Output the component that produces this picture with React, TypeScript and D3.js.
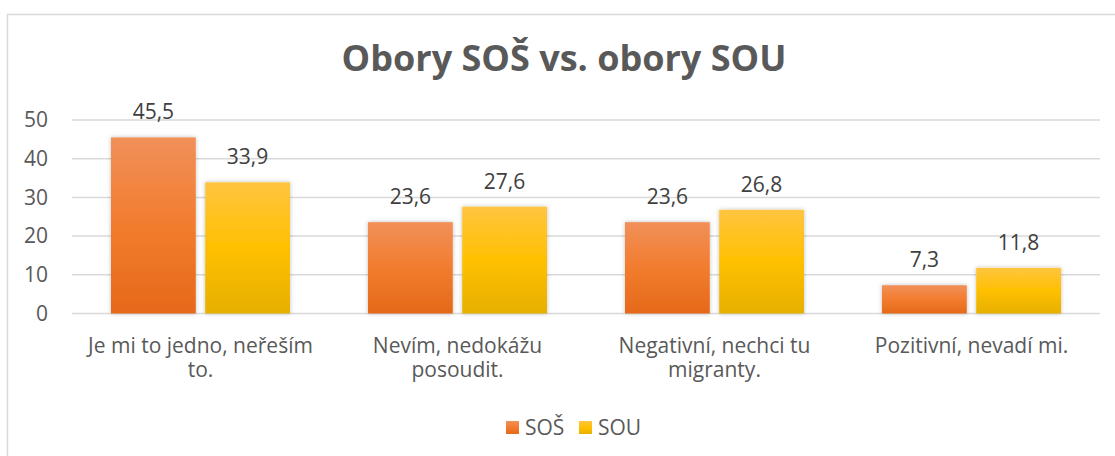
import React, { useRef, useEffect } from 'react';
import * as d3 from 'd3';

const categories = [
  ['Je mi to jedno, neřeším', 'to.'],
  ['Nevím, nedokážu', 'posoudit.'],
  ['Negativní, nechci tu', 'migranty.'],
  ['Pozitivní, nevadí mi.'],
];
const sosValues = [45.5, 23.6, 23.6, 7.3];
const souValues = [33.9, 27.6, 26.8, 11.8];
const seriesNames = ['SOŠ', 'SOU'];
const yTicks = [0, 10, 20, 30, 40, 50];

const FONT = '"Open Sans", Calibri, sans-serif';
const TEXT = '#595959';

export default function App() {
  const svgRef = useRef<SVGSVGElement>(null);
  const width = 1115;
  const height = 456;
  const margin = { top: 120, right: 15, bottom: 142, left: 72 };

  useEffect(() => {
    const svg = d3.select(svgRef.current);
    svg.selectAll('*').remove();

    const defs = svg.append('defs');
    const grad = (id: string, stops: string[]) => {
      const g = defs.append('linearGradient').attr('id', id)
        .attr('x1', 0).attr('y1', 0).attr('x2', 0).attr('y2', 1);
      stops.forEach((c, i) => g.append('stop')
        .attr('offset', `${(i / (stops.length - 1)) * 100}%`).attr('stop-color', c));
    };
    grad('gSos', ['#F19059', '#F27C2E', '#E5691A']);
    grad('gSou', ['#FFC540', '#FFC000', '#E6B000']);
    const shadow = defs.append('filter').attr('id', 'shadow')
      .attr('x', '-20%').attr('y', '-20%').attr('width', '140%').attr('height', '140%');
    shadow.append('feDropShadow').attr('dx', 0).attr('dy', 0)
      .attr('stdDeviation', 2).attr('flood-color', '#000').attr('flood-opacity', 0.25);

    // chart border
    svg.append('rect')
      .attr('x', 7.5).attr('y', 14.5)
      .attr('width', width + 20).attr('height', height + 20)
      .attr('fill', 'white').attr('stroke', '#d9d9d9').attr('stroke-width', 1.5);

    // title
    svg.append('text')
      .attr('x', 564).attr('y', 71)
      .attr('text-anchor', 'middle')
      .attr('fill', TEXT)
      .attr('font-family', FONT)
      .attr('font-weight', 'bold')
      .attr('font-size', 36)
      .text('Obory SOŠ vs. obory SOU');

    const x0 = d3.scaleBand<number>()
      .domain(d3.range(categories.length))
      .range([margin.left, width - margin.right])
      .paddingInner(0).paddingOuter(0);

    const groupPad = 39;
    const x1 = d3.scaleBand<number>()
      .domain([0, 1])
      .range([groupPad, x0.bandwidth() - groupPad])
      .paddingInner(0.1);

    const y = d3.scaleLinear()
      .domain([0, 50])
      .range([313.5, 120]);

    // gridlines
    svg.append('g')
      .selectAll('line')
      .data(yTicks)
      .join('line')
      .attr('x1', margin.left)
      .attr('x2', width - margin.right)
      .attr('y1', d => y(d))
      .attr('y2', d => y(d))
      .attr('stroke', '#d9d9d9')
      .attr('stroke-width', 1.5);

    // y axis labels
    svg.append('g')
      .attr('transform', `translate(${margin.left - 24},0)`)
      .call(d3.axisLeft(y).tickValues(yTicks).tickSize(0).tickPadding(0))
      .call(g => g.select('.domain').remove())
      .call(g => g.selectAll('.tick text')
        .attr('fill', TEXT)
        .attr('font-size', 21)
        .attr('font-family', FONT));

    const series = [
      { name: seriesNames[0], values: sosValues, fill: 'url(#gSos)' },
      { name: seriesNames[1], values: souValues, fill: 'url(#gSou)' },
    ];

    series.forEach((s, si) => {
      const g = svg.append('g');
      g.selectAll('rect')
        .data(s.values)
        .join('rect')
        .attr('x', (_, i) => (x0(i) ?? 0) + (x1(si) ?? 0))
        .attr('y', d => y(d))
        .attr('width', x1.bandwidth())
        .attr('height', d => y(0) - y(d))
        .attr('fill', s.fill)
        .attr('filter', 'url(#shadow)');

      g.selectAll('text')
        .data(s.values)
        .join('text')
        .attr('x', (_, i) => (x0(i) ?? 0) + (x1(si) ?? 0) + x1.bandwidth() / 2)
        .attr('y', d => y(d) - 18)
        .attr('text-anchor', 'middle')
        .attr('fill', '#404040')
        .attr('font-size', 21)
        .attr('font-family', FONT)
        .text(d => d.toString().replace('.', ','));
    });

    // category labels, one text per line
    const catG = svg.append('g');
    categories.forEach((lines, i) => {
      lines.forEach((ln, j) => {
        catG.append('text')
          .attr('x', (x0(i) ?? 0) + x0.bandwidth() / 2)
          .attr('y', 353 + j * 24)
          .attr('text-anchor', 'middle')
          .attr('fill', TEXT)
          .attr('font-size', 21)
          .attr('font-family', FONT)
          .text(ln);
      });
    });

    // legend
    const legend = svg.append('g').attr('transform', 'translate(506,421)');
    const legendX = [0, 73];
    series.forEach((s, i) => {
      legend.append('rect')
        .attr('x', legendX[i]).attr('y', 0)
        .attr('width', 13).attr('height', 13)
        .attr('fill', s.fill);
      legend.append('text')
        .attr('x', legendX[i] + 19).attr('y', 14)
        .attr('fill', TEXT)
        .attr('font-size', 21)
        .attr('font-family', FONT)
        .text(s.name);
    });
  }, []);

  return (
    <svg
      ref={svgRef}
      width={width}
      height={height}
      style={{ position: 'absolute', left: 0, top: 0, background: 'white' }}
    />
  );
}
